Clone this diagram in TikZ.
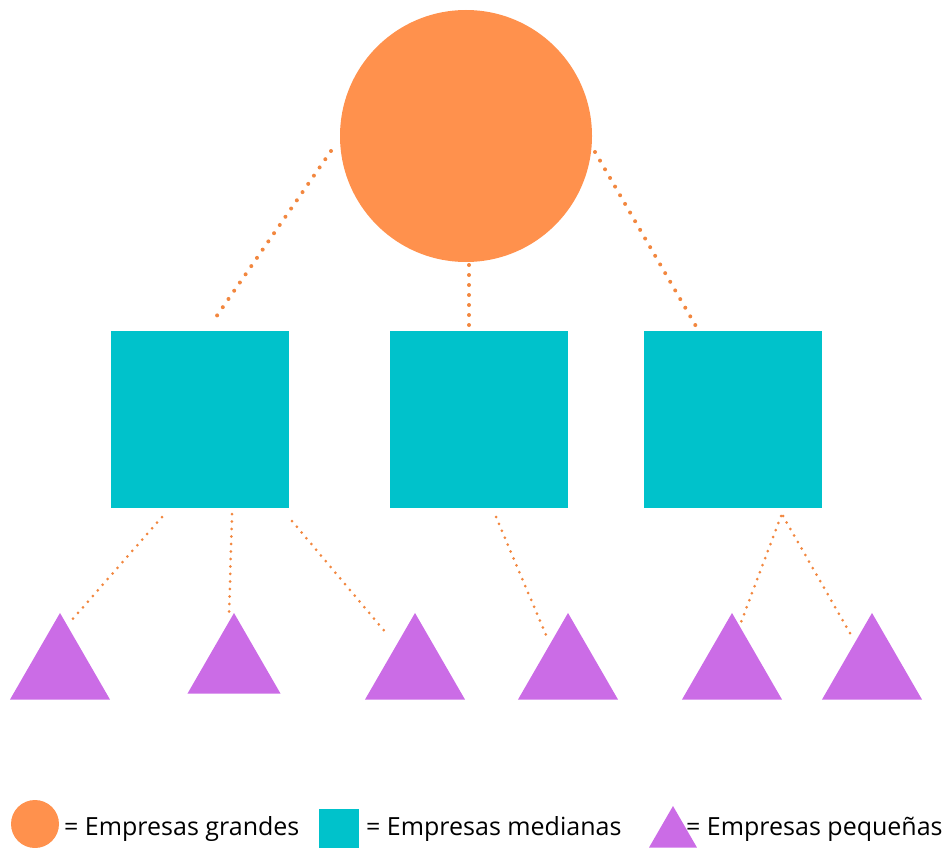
\documentclass[tikz,border=0pt]{standalone}
\usepackage{fontspec}
\setmainfont{Open Sans}
\usetikzlibrary{shapes.geometric}

\definecolor{naranja}{HTML}{FF914D}
\definecolor{punteado}{HTML}{F2873F}
\definecolor{turquesa}{HTML}{00C2CB}
\definecolor{lila}{HTML}{CB6CE6}

\begin{document}
\begin{tikzpicture}[x=1pt, y=-1pt,
    grande/.style={circle, fill=naranja, inner sep=0pt, outer sep=0pt, minimum size=#1},
    grande/.default=252pt,
    mediana/.style={rectangle, fill=turquesa, inner sep=0pt, outer sep=0pt, minimum width=178pt, minimum height=177pt},
    pequena/.style={regular polygon, regular polygon sides=3, fill=lila, inner sep=0pt, outer sep=0pt, minimum size=#1},
    pequena/.default=115.5pt,
    enlace/.style={draw=punteado, line width=4pt, line cap=round, dash pattern=on 0pt off 10pt},
    enlacefino/.style={draw=punteado, line width=3pt, line cap=round, dash pattern=on 0pt off 7.5pt},
    leyenda/.style={anchor=base west, inner sep=0pt, font=\fontsize{25}{30}\selectfont}]
    \useasboundingbox (0,0) rectangle (945,848);

    \node[grande] (emp) at (466,136) {};
    \node[mediana] (med1) at (200,419.5) {};
    \node[mediana] (med2) at (479,419.5) {};
    \node[mediana] (med3) at (733,419.5) {};
    \node[pequena] (peq1) at (60,670.7) {};
    \node[pequena=107.4pt] (peq2) at (234,666.7) {};
    \node[pequena] (peq3) at (415,670.7) {};
    \node[pequena] (peq4) at (568,670.7) {};
    \node[pequena] (peq5) at (732,670.7) {};
    \node[pequena] (peq6) at (872,670.7) {};

    % grande -> medianas
    \draw[enlace] ([shift={(-135,15)}]emp.center) -- ([shift={(16,-14)}]med1.north);
    \draw[enlace] ([shift={(3,3)}]emp.south) -- ([shift={(-10,-1)}]med2.north);
    \draw[enlace] ([shift={(129,16)}]emp.center) -- ([shift={(-36,-3)}]med3.north);

    % medianas -> pequenas
    \draw[enlacefino] ([shift={(-38,9)}]med1.south) -- ([shift={(11,8)}]peq1.corner 1);
    \draw[enlacefino] ([shift={(32,6)}]med1.south) -- ([shift={(-5,4)}]peq2.corner 1);
    \draw[enlacefino] ([shift={(92,13)}]med1.south) -- ([shift={(-29,20)}]peq3.corner 1);
    \draw[enlacefino] ([shift={(17,9)}]med2.south) -- ([shift={(-22,22)}]peq4.corner 1);
    \draw[enlacefino] ([shift={(48,8)}]med3.south) -- ([shift={(8,12)}]peq5.corner 1);
    \draw[enlacefino] ([shift={(50,8)}]med3.south) -- ([shift={(-21,22)}]peq6.corner 1);

    % leyenda
    \node[grande=48pt] (leygrande) at (35,824) {};
    \node[leyenda] (txtgrande) at (64,835) {= Empresas grandes};
    \node[rectangle, fill=turquesa, inner sep=0pt, minimum size=40pt] (leymediana) at (339,829) {};
    \node[leyenda] (txtmediana) at (366,835) {= Empresas medianas};
    \node[pequena=55.4pt] (leypequena) at (673,833.7) {};
    \node[leyenda] (txtpequena) at (686,835) {= Empresas pequeñas};
\end{tikzpicture}
\end{document}
